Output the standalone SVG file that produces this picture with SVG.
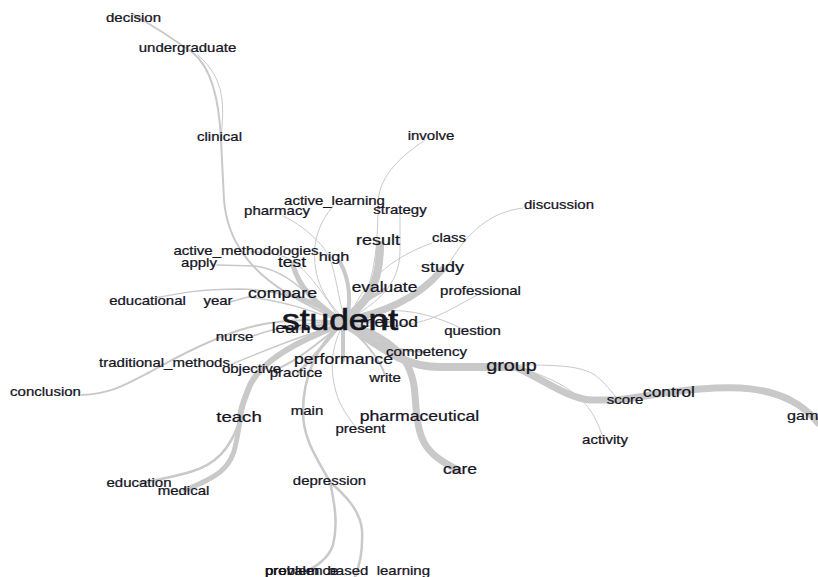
<svg xmlns="http://www.w3.org/2000/svg" width="818" height="577" viewBox="0 0 818 577">
<style>
text{font-family:"Liberation Sans",Arial,sans-serif;fill:#15151f;text-anchor:middle;stroke:#15151f;stroke-width:0.25}
.s{font-size:12.5px}
.m{font-size:14.5px}
.l{font-size:29.5px;stroke-width:0.7}
#edges path{fill:none;stroke:#c9c9c9;stroke-linecap:round}
.w1{stroke-width:1}
.w15{stroke-width:1.5}
.w2{stroke-width:2}
.w25{stroke-width:2.5}
.w3{stroke-width:3}
.w4{stroke-width:4}
.w5{stroke-width:5}
.w6{stroke-width:6}
.w7{stroke-width:7}
.w8{stroke-width:8}
</style>
<rect width="818" height="577" fill="#ffffff"/>
<g id="edges">
<path class="w8" d="M342,322 C362,305 380,292 380,245"/>
<path class="w7" d="M342,322 C385,312 415,300 442,270"/>
<path class="w8" d="M342,322 C380,345 400,367 440,367 L515,367"/>
<path class="w7" d="M342,322 C395,338 413,360 415,395 C418,440 422,452 458,470"/>
<path class="w6" d="M340,325 C300,340 262,360 250,385 C244,400 240,410 240,420"/>
<path class="w5" d="M240,420 C236,445 235,460 220,472 C210,480 195,486 185,490"/>
<path class="w25" d="M240,420 C230,450 215,465 190,472 C170,478 155,480 140,483"/>
<path class="w7" d="M515,367 C545,380 565,397 590,400 L615,400 C640,398 660,392 700,389 C740,386 765,388 790,400 C805,408 812,415 818,423"/>
<path class="w1" d="M520,368 C560,380 580,395 590,410 C597,420 600,430 603,437"/>
<path class="w1" d="M520,365 C560,365 580,366 595,375 C605,383 612,392 618,400"/>
<path class="w5" d="M342,322 C320,305 300,292 293,265"/>
<path class="w4" d="M345,322 C352,305 350,280 340,262"/>
<path class="w4" d="M345,322 C358,305 368,298 384,290"/>
<path class="w4" d="M342,322 C325,308 305,297 283,294"/>
<path class="w4" d="M343,325 C343,338 343,348 343,360"/>
<path class="w3" d="M340,325 C325,345 310,360 298,373"/>
<path class="w3" d="M340,322 L292,330"/>
<path class="w3" d="M345,322 L389,322"/>
<path class="w2" d="M345,325 C370,340 395,352 425,352"/>
<path class="w2" d="M345,325 C365,340 380,360 385,375"/>
<path class="w25" d="M340,325 C318,345 303,375 303,412"/>
<path class="w25" d="M303,412 C303,440 318,460 330,482"/>
<path class="w25" d="M330,482 C335,505 338,525 333,545 C328,560 315,568 300,574"/>
<path class="w25" d="M330,482 C345,495 360,510 362,530 C363,550 360,565 355,577"/>
<path class="w1" d="M345,322 C330,345 328,375 340,403 C346,415 352,422 358,430"/>
<path class="w2" d="M342,325 C320,340 300,360 275,370"/>
<path class="w15" d="M340,325 C300,335 262,352 232,364"/>
<path class="w2" d="M340,322 C300,318 265,322 240,330 C210,340 180,355 150,372 C125,385 110,394 82,395"/>
<path class="w15" d="M342,322 C310,322 280,326 253,336"/>
<path class="w15" d="M342,322 C310,310 280,300 248,297 L230,302"/>
<path class="w15" d="M342,322 C310,300 280,290 240,289 C200,289 180,293 155,298"/>
<path class="w15" d="M342,322 C310,300 290,270 255,266 L217,265"/>
<path class="w1" d="M342,322 C322,292 305,265 285,257 C270,252 260,252 250,252"/>
<path class="w2" d="M342,322 C300,300 230,275 224,200 L221,140 C219,100 212,68 192,52 C172,38 150,24 133,14"/>
<path class="w1" d="M221,140 C224,105 226,80 198,55"/>
<path class="w1" d="M345,320 C336,292 336,262 322,246 C310,232 296,222 283,216"/>
<path class="w1" d="M345,320 C325,300 312,280 315,245 C318,225 327,214 333,206"/>
<path class="w1" d="M348,320 C368,300 378,270 378,205 C378,180 395,160 425,140"/>
<path class="w1" d="M348,320 C378,302 400,285 400,250 L400,214"/>
<path class="w1" d="M348,320 C358,295 378,262 432,243"/>
<path class="w1" d="M345,322 C400,310 430,295 450,262 C468,232 490,212 523,208"/>
<path class="w1" d="M345,322 C380,330 410,326 432,318 C452,310 467,300 483,292"/>
<path class="w1" d="M345,318 C385,305 425,308 470,333"/>
</g>
<g id="decision"><text class="s" transform="translate(133.5 22) scale(1.2 1)">decision</text></g>
<g id="undergraduate"><text class="s" transform="translate(187.5 52) scale(1.2 1)">undergraduate</text></g>
<g id="clinical"><text class="s" transform="translate(219.5 141) scale(1.2 1)">clinical</text></g>
<g id="involve"><text class="s" transform="translate(431 139.5) scale(1.2 1)">involve</text></g>
<g id="active_learning"><text class="s" transform="translate(334.5 205) scale(1.2 1)">active_learning</text></g>
<g id="pharmacy"><text class="s" transform="translate(277 215) scale(1.2 1)">pharmacy</text></g>
<g id="strategy"><text class="s" transform="translate(400 213.5) scale(1.2 1)">strategy</text></g>
<g id="discussion"><text class="s" transform="translate(559 209) scale(1.2 1)">discussion</text></g>
<g id="result"><text class="m" style="font-size:15px" transform="translate(378 245) scale(1.2 1)">result</text></g>
<g id="class"><text class="s" transform="translate(449 242) scale(1.2 1)">class</text></g>
<g id="active_methodologies"><text class="s" transform="translate(246 255) scale(1.2 1)">active_methodologies</text></g>
<g id="apply"><text class="s" transform="translate(199 267) scale(1.2 1)">apply</text></g>
<g id="test"><text class="m" transform="translate(292 267) scale(1.2 1)">test</text></g>
<g id="high"><text class="m" style="font-size:13.5px" transform="translate(334 261) scale(1.2 1)">high</text></g>
<g id="study"><text class="m" style="font-size:15px" transform="translate(442.5 272) scale(1.2 1)">study</text></g>
<g id="evaluate"><text class="m" transform="translate(384.5 292) scale(1.2 1)">evaluate</text></g>
<g id="professional"><text class="s" transform="translate(480.5 295) scale(1.2 1)">professional</text></g>
<g id="compare"><text class="m" style="font-size:14.8px" transform="translate(282.5 297.5) scale(1.2 1)">compare</text></g>
<g id="educational"><text class="s" transform="translate(147.5 305) scale(1.2 1)">educational</text></g>
<g id="year"><text class="s" transform="translate(218 305) scale(1.2 1)">year</text></g>
<g id="method"><text class="m" transform="translate(389 327) scale(1.2 1)">method</text></g>
<g id="learn"><text class="m" transform="translate(291 333) scale(1.2 1)">learn</text></g>
<g id="student"><text class="l" transform="translate(340 330) scale(1.2 1)">student</text></g>
<g id="nurse"><text class="s" transform="translate(234.5 341) scale(1.2 1)">nurse</text></g>
<g id="question"><text class="s" transform="translate(472.5 335) scale(1.2 1)">question</text></g>
<g id="competency"><text class="s" transform="translate(426.5 356) scale(1.2 1)">competency</text></g>
<g id="performance"><text class="m" style="font-size:14.7px" transform="translate(343.5 364) scale(1.2 1)">performance</text></g>
<g id="traditional_methods"><text class="s" transform="translate(164.5 367) scale(1.2 1)">traditional_methods</text></g>
<g id="objective"><text class="s" transform="translate(251.5 373) scale(1.2 1)">objective</text></g>
<g id="practice"><text class="s" transform="translate(296 377) scale(1.2 1)">practice</text></g>
<g id="write"><text class="s" transform="translate(385 382) scale(1.2 1)">write</text></g>
<g id="group"><text class="m" style="font-size:16.5px" transform="translate(511.5 371) scale(1.2 1)">group</text></g>
<g id="conclusion"><text class="s" transform="translate(45.5 396) scale(1.2 1)">conclusion</text></g>
<g id="score"><text class="s" transform="translate(625 403.5) scale(1.2 1)">score</text></g>
<g id="control"><text class="m" style="font-size:14.4px" transform="translate(669 397) scale(1.2 1)">control</text></g>
<g id="game"><text class="m" style="font-size:13.5px;text-anchor:start" transform="translate(787 419.5) scale(1.2 1)">game</text></g>
<g id="teach"><text class="m" style="font-size:15.5px" transform="translate(239 422) scale(1.2 1)">teach</text></g>
<g id="main"><text class="s" transform="translate(307 415) scale(1.2 1)">main</text></g>
<g id="pharmaceutical"><text class="m" style="font-size:14.7px" transform="translate(419.5 421) scale(1.2 1)">pharmaceutical</text></g>
<g id="present"><text class="s" transform="translate(360.5 433) scale(1.2 1)">present</text></g>
<g id="activity"><text class="s" transform="translate(605 443.5) scale(1.2 1)">activity</text></g>
<g id="care"><text class="m" style="font-size:14.6px" transform="translate(460 474) scale(1.2 1)">care</text></g>
<g id="education"><text class="s" transform="translate(139 487) scale(1.2 1)">education</text></g>
<g id="medical"><text class="s" transform="translate(183.5 495) scale(1.2 1)">medical</text></g>
<g id="depression"><text class="s" transform="translate(329.5 485) scale(1.2 1)">depression</text></g>
<g id="problem_based_learning"><text class="s" style="text-anchor:start" transform="translate(265 574.5) scale(1.2 1)">problem_based_learning</text></g>
<g id="prevalence"><text class="s" style="text-anchor:start" transform="translate(265 574.5) scale(1.2 1)">prevalence</text></g>
</svg>
